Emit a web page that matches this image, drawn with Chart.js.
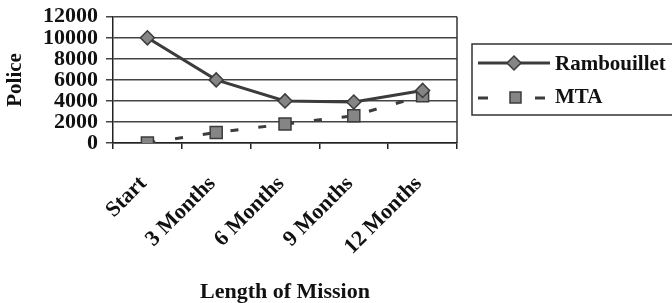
<!DOCTYPE html>
<html>
<head>
<meta charset="utf-8">
<script src="https://cdn.jsdelivr.net/npm/chart.js@4"></script>
<style>
  html, body { margin: 0; padding: 0; background: #fff; }
  #wrap { width: 672px; height: 303px; }
</style>
</head>
<body>
<div id="wrap"><canvas id="missionChart" width="672" height="303"></canvas></div>
<script>
var categories = ['Start', '3 Months', '6 Months', '9 Months', '12 Months'];
var rambouillet = [10000, 6000, 4000, 3900, 5000];
var mta = [0, 1000, 1800, 2600, 4500];
var yTicks = [0, 2000, 4000, 6000, 8000, 10000, 12000];

var serif = '"Liberation Serif", "Times New Roman", serif';

// cadre droit + légende encadrée
var framePlugin = {
    id: 'frame',
    afterDraw: function (chart) {
        var ctx = chart.ctx;
        var a = chart.chartArea;
        ctx.save();
        ctx.strokeStyle = '#333';
        ctx.lineWidth = 1.5;
        ctx.beginPath();
        ctx.moveTo(a.right, a.top);
        ctx.lineTo(a.right, a.bottom);
        ctx.stroke();

        // légende
        ctx.strokeRect(472, 44, 220, 71);

        var ds0 = chart.data.datasets[0];
        var ds1 = chart.data.datasets[1];
        var y1 = 63, y2 = 98;

        ctx.strokeStyle = ds0.borderColor;
        ctx.lineWidth = 3;
        ctx.beginPath();
        ctx.moveTo(478, y1);
        ctx.lineTo(550, y1);
        ctx.stroke();
        ctx.fillStyle = ds0.pointBackgroundColor;
        ctx.strokeStyle = ds0.pointBorderColor;
        ctx.lineWidth = 1.5;
        ctx.beginPath();
        ctx.moveTo(514, y1 - 7);
        ctx.lineTo(521, y1);
        ctx.lineTo(514, y1 + 7);
        ctx.lineTo(507, y1);
        ctx.closePath();
        ctx.fill();
        ctx.stroke();

        ctx.strokeStyle = ds1.borderColor;
        ctx.lineWidth = 3;
        ctx.beginPath();
        ctx.moveTo(478, y2); ctx.lineTo(488, y2);
        ctx.moveTo(535, y2); ctx.lineTo(545, y2);
        ctx.stroke();
        ctx.fillStyle = ds1.pointBackgroundColor;
        ctx.strokeStyle = ds1.pointBorderColor;
        ctx.lineWidth = 1.5;
        ctx.fillRect(510, y2 - 6, 11, 11);
        ctx.strokeRect(510, y2 - 6, 11, 11);

        ctx.fillStyle = '#111';
        ctx.font = 'bold 21px ' + serif;
        ctx.textBaseline = 'middle';
        ctx.textAlign = 'left';
        ctx.fillText(ds0.label, 555, y1 + 2);
        ctx.fillText(ds1.label, 555, y2);
        ctx.restore();
    }
};

var ctx = document.getElementById('missionChart').getContext('2d');
var missionChart = new Chart(ctx, {
    type: 'line',
    data: {
        labels: categories,
        datasets: [{
            label: 'Rambouillet',
            data: rambouillet,
            borderColor: '#3c3c3c',
            borderWidth: 3,
            pointStyle: 'rectRot',
            pointRadius: 7,
            pointBackgroundColor: '#858585',
            pointBorderColor: '#3c3c3c',
            pointBorderWidth: 1.5,
            tension: 0,
            fill: false
        }, {
            label: 'MTA',
            data: mta,
            borderColor: '#3c3c3c',
            borderWidth: 3,
            borderDash: [8, 20],
            pointStyle: 'rect',
            pointRadius: 8.5,
            pointBackgroundColor: '#858585',
            pointBorderColor: '#3c3c3c',
            pointBorderWidth: 1.5,
            tension: 0,
            fill: false
        }]
    },
    options: {
        responsive: false,
        animation: false,
        devicePixelRatio: 1,
        layout: { padding: { top: 15, right: 215, bottom: 0, left: 0 } },
        plugins: {
            legend: { display: false },
            tooltip: { enabled: false }
        },
        scales: {
            x: {
                offset: true,
                afterFit: function (s) { s.height = 160; },
                grid: { display: true, offset: true, drawOnChartArea: false, drawTicks: true, tickLength: 6, color: '#222', lineWidth: 1.5 },
                border: { color: '#222', width: 1.5 },
                ticks: {
                    autoSkip: false, maxRotation: 45, minRotation: 45, padding: 22, labelOffset: -4,
                    color: '#111', font: { family: serif, size: 22, weight: 'bold' }
                },
                title: {
                    display: true, text: 'Length of Mission', color: '#111',
                    font: { family: serif, size: 22, weight: 'bold' },
                    padding: { top: 0, bottom: -3 }
                }
            },
            y: {
                min: 0, max: 12000,
                afterFit: function (s) { s.width = 113; },
                afterBuildTicks: function (s) { s.ticks = yTicks.map(function (v) { return { value: v }; }); },
                grid: { color: '#444', lineWidth: 1.5, tickLength: 7 },
                border: { color: '#222', width: 1.5 },
                ticks: {
                    autoSkip: false, padding: 8, color: '#111',
                    font: { family: serif, size: 22, weight: 'bold', lineHeight: 0.8 },
                    callback: function (v) { return String(v); }
                },
                title: {
                    display: true, text: 'Police', color: '#111',
                    font: { family: serif, size: 21, weight: 'bold' },
                    padding: { top: 3, bottom: 0 }
                }
            }
        }
    },
    plugins: [framePlugin]
});
</script>
</body>
</html>
